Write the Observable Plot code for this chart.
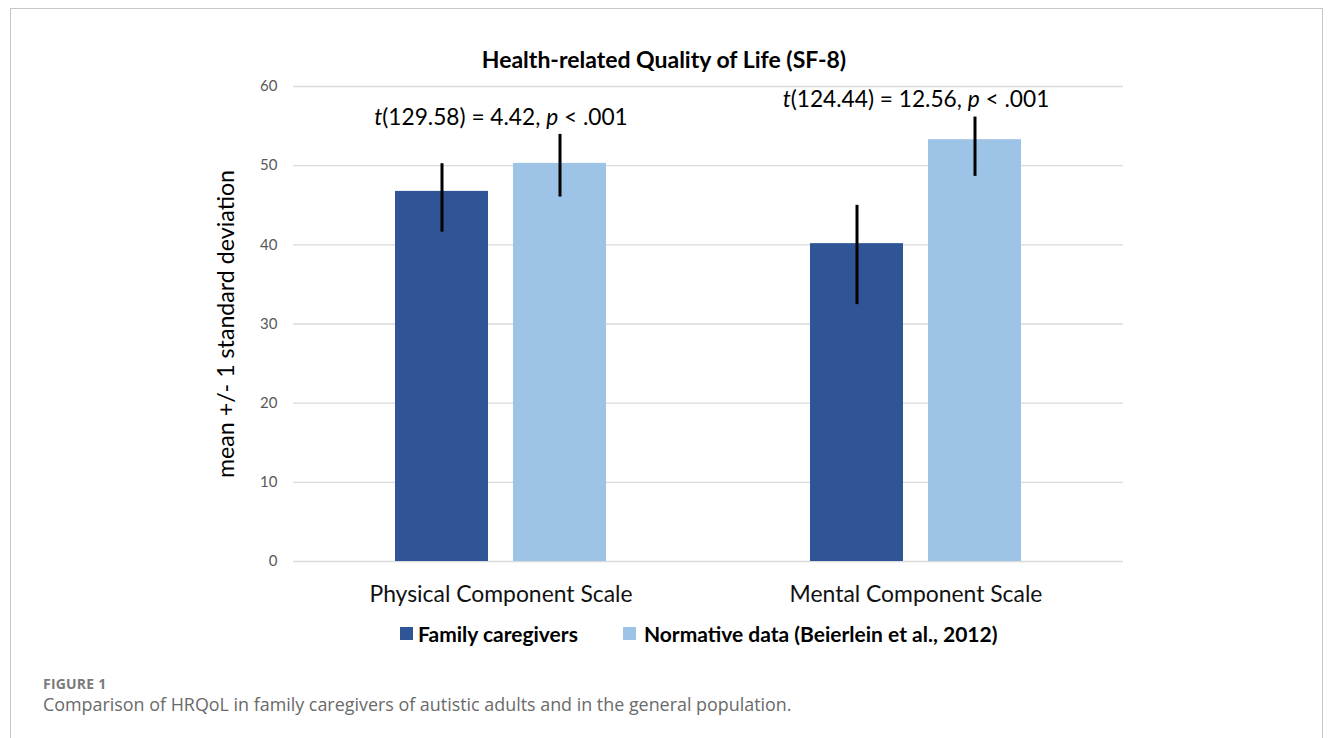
<!DOCTYPE html>
<html>
<head>
<meta charset="utf-8">
<script src="https://cdn.jsdelivr.net/npm/d3@7"></script>
<script src="https://cdn.jsdelivr.net/npm/@observablehq/plot@0.6"></script>
<style>
  html, body { margin: 0; padding: 0; background: #fff; }
  body { width: 1333px; height: 738px; overflow: hidden; position: relative; font-family: Lato, "Open Sans", sans-serif; }
  #frame { position: absolute; left: 10px; top: 8px; width: 1311px; height: 780px; border: 1.5px solid #c6c6c6; border-bottom: none; }
  #title { position: absolute; top: 45px; left: 0; width: 1328px; text-align: center; font-weight: 700; font-size: 23px; color: #000; }
  #chart { position: absolute; top: 70px; left: 0; }
  #legend { position: absolute; top: 621px; left: 400px; display: flex; align-items: center; font-weight: 700; font-size: 21px; color: #000; white-space: nowrap; }
  #legend .sw { width: 13px; height: 13px; display: inline-block; margin-right: 5px; }
  #legend .item { display: flex; align-items: center; }
  #legend .item + .item { margin-left: 45px; }
  #legend .item + .item .sw { margin-right: 8px; }
  #fig { position: absolute; left: 43px; top: 674px; font-family: "Open Sans", sans-serif; font-size: 14px; font-weight: 700; color: #7a7a7a; letter-spacing: 0.2px; }
  #cap { position: absolute; left: 43px; top: 692px; font-family: "Open Sans", sans-serif; font-size: 17.9px; font-weight: 400; color: #6a6a6a; }
  g[aria-label="y-axis label"] { font-size: 23.2px; fill: #000; }
</style>
</head>
<body>
<div id="frame"></div>
<div id="title">Health-related Quality of Life (SF-8)</div>
<div id="chart"></div>
<div id="legend"></div>
<div id="fig">FIGURE 1</div>
<div id="cap">Comparison of HRQoL in family caregivers of autistic adults and in the general population.</div>
<script>
// ---- data ----
const categories = ["Physical Component Scale", "Mental Component Scale"];
const groups = ["Family caregivers", "Normative data (Beierlein et al., 2012)"];
const familyMean = [46.75, 40.15];
const familyLow  = [41.6, 32.45];
const familyHigh = [50.25, 44.99];
const normMean = [50.29, 53.28];
const normLow  = [46.04, 48.65];
const normHigh = [53.95, 56.14];
const tests = ["t(129.58) = 4.42, p < .001", "t(124.44) = 12.56, p < .001"];
const yTicks = [0, 10, 20, 30, 40, 50, 60];
const colors = ["#2F5597", "#9DC3E6"];

const rows = categories.flatMap((c, i) => [
  {cat: c, group: groups[0], mean: familyMean[i], lo: familyLow[i], hi: familyHigh[i]},
  {cat: c, group: groups[1], mean: normMean[i], lo: normLow[i], hi: normHigh[i]}
]);
const testRows = categories.map((c, i) => ({
  cat: c, label: tests[i], top: Math.max(familyHigh[i], normHigh[i])
}));

const chart = Plot.plot({
  width: 1333,
  height: 545,
  marginLeft: 293,
  marginRight: 210,
  marginTop: 16,
  marginBottom: 54,
  style: {fontFamily: "Lato, 'Open Sans', sans-serif", background: "transparent"},
  fx: {domain: categories, padding: 0, label: null},
  x: {domain: groups, paddingInner: 0.212, paddingOuter: 0.864, axis: null},
  y: {domain: [0, 60]},
  color: {domain: groups, range: colors},
  marks: [
    Plot.gridY(yTicks, {stroke: "#d9d9d9", strokeOpacity: 1, strokeWidth: 1.4}),
    Plot.barY(rows, {fx: "cat", x: "group", y: "mean", fill: "group"}),
    Plot.ruleX(rows, {fx: "cat", x: "group", y1: "lo", y2: "hi", stroke: "#000", strokeWidth: 3}),
    Plot.text(testRows, {fx: "cat", y: "top", text: "label", dy: -17, fontSize: 22.7, fill: "#000"}),
    Plot.axisY(yTicks, {tickSize: 0, tickPadding: 16, fontSize: 15, color: "#595959",
      label: "mean +/- 1 standard deviation", labelAnchor: "center", labelOffset: 76, labelArrow: "none"}),
    Plot.axisFx({anchor: "bottom", tickSize: 0, tickPadding: 24, fontSize: 22.9, label: null, color: "#111"})
  ]
});
document.getElementById("chart").appendChild(chart);

// italicize statistical symbols t and p
chart.querySelectorAll('g[aria-label="text"] text').forEach(t => {
  const s = t.textContent;
  const parts = s.split(/(\bt(?=\()|\bp(?= <))/);
  t.textContent = "";
  parts.forEach(p => {
    if (!p) return;
    const ts = document.createElementNS("http://www.w3.org/2000/svg", "tspan");
    if (p === "t" || p === "p") ts.setAttribute("font-style", "italic");
    ts.textContent = p;
    t.appendChild(ts);
  });
});

// legend
const legend = document.getElementById("legend");
groups.forEach((g, i) => {
  const item = document.createElement("div");
  item.className = "item";
  const sw = document.createElement("span");
  sw.className = "sw";
  sw.style.background = colors[i];
  const lab = document.createElement("span");
  lab.textContent = g;
  item.appendChild(sw);
  item.appendChild(lab);
  legend.appendChild(item);
});
</script>
</body>
</html>
